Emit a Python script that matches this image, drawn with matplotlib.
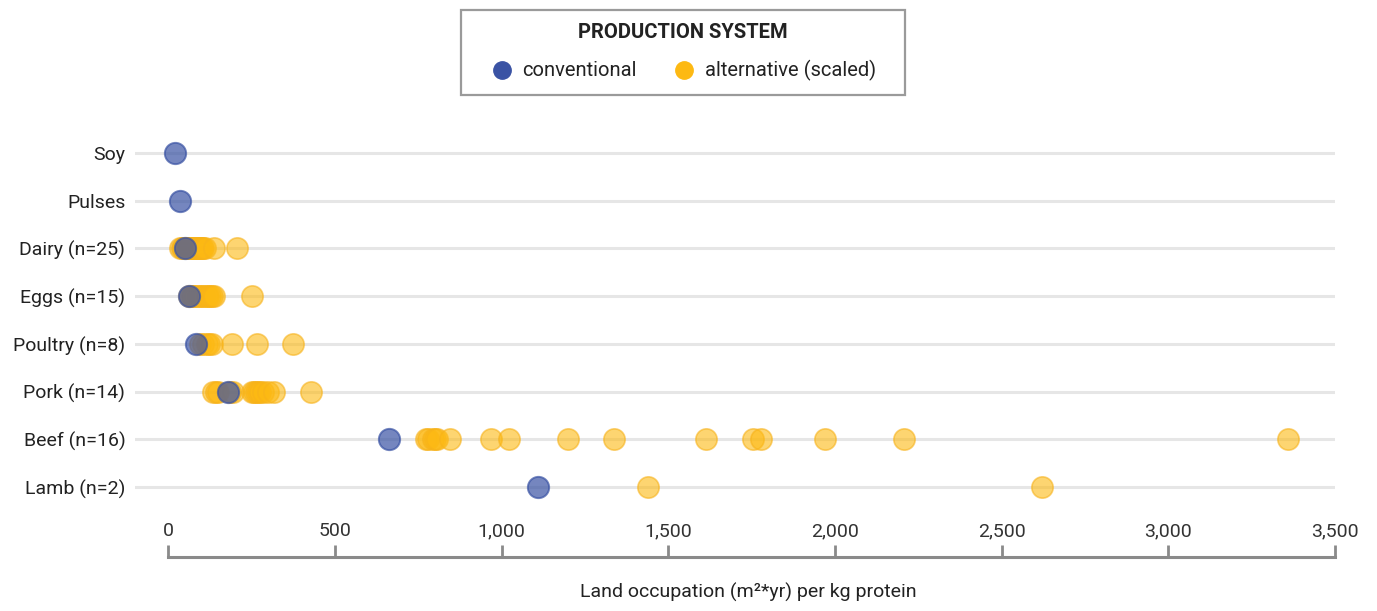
import matplotlib.pyplot as plt
from matplotlib.lines import Line2D
from matplotlib.patches import Rectangle
from matplotlib.ticker import FuncFormatter

plt.rcParams['font.family'] = ['Roboto', 'DejaVu Sans']

categories = ['Soy', 'Pulses', 'Dairy (n=25)', 'Eggs (n=15)', 'Poultry (n=8)',
              'Pork (n=14)', 'Beef (n=16)', 'Lamb (n=2)']

# land occupation, m2*yr per kg protein
conventional = [21, 36, 49, 61, 84, 178, 663, 1110]

alt_dairy = [35, 40, 45, 50, 55, 58, 62, 65, 68, 72, 75, 78, 80, 83, 86, 88,
             90, 92, 95, 97, 100, 105, 110, 136, 206]
alt_eggs = [62, 65, 70, 75, 80, 88, 95, 100, 108, 115, 120, 126, 130, 136, 251]
alt_poultry = [95, 105, 115, 122, 131, 191, 266, 374]
alt_pork = [135, 143, 150, 186, 195, 250, 256, 262, 270, 276, 285, 300, 316, 429]
alt_beef = [772, 780, 795, 800, 806, 844, 967, 1021, 1199, 1338, 1613, 1753,
            1778, 1971, 2208, 3360]
alt_lamb = [1439, 2620]

alternative = {2: alt_dairy, 3: alt_eggs, 4: alt_poultry, 5: alt_pork,
               6: alt_beef, 7: alt_lamb}

blue = '#3a53a4'
yellow = '#fdb913'
W, H = 1377, 611

fig = plt.figure(figsize=(13.77, 6.11), dpi=100)
ax = fig.add_axes([135 / W, (H - 557) / H, 1200 / W, 427 / H])

for i in range(len(categories)):
    ax.axhline(i, color='#e6e6e6', lw=2.2, zorder=0)

for i, vals in alternative.items():
    ax.scatter(vals, [i] * len(vals), s=235, color=yellow, alpha=0.6,
               edgecolor='#f7b21a', linewidth=1.2, zorder=2)

ax.scatter(conventional, range(len(categories)), s=235, color=blue, alpha=0.7,
           edgecolor=blue, linewidth=1.4, zorder=3)

ax.set_xlim(-100, 3500)
ax.set_ylim(8.467, -0.48)
ax.set_yticks(range(len(categories)))
ax.set_yticklabels(categories, fontsize=14, color='#222222')
ax.tick_params(axis='y', length=0, pad=7)

ax.set_xticks(range(0, 3501, 500))
ax.xaxis.set_major_formatter(FuncFormatter(lambda v, p: f'{int(v):,}'))
ax.tick_params(axis='x', direction='in', length=8.6, width=2, color='#8a8a8a',
               labelsize=14, labelcolor='#333333', pad=-25)

for side in ['top', 'right', 'left']:
    ax.spines[side].set_visible(False)
ax.spines['bottom'].set_bounds(0, 3500)
ax.spines['bottom'].set_color('#8a8a8a')
ax.spines['bottom'].set_linewidth(2.2)

fig.text(748 / W, 1 - 592 / H, 'Land occupation (m²*yr) per kg protein',
         ha='center', va='center', fontsize=14, color='#222222')

# legend box drawn in figure pixels
fig.patches.append(Rectangle((461 / W, 1 - 95 / H), 444 / W, 85 / H,
                             transform=fig.transFigure, fill=False,
                             edgecolor='#9a9a9a', linewidth=1.6))
fig.text(683 / W, 1 - 33 / H, 'PRODUCTION SYSTEM', ha='center', va='center',
         fontsize=14.5, fontweight='bold', color='#222222')
for cx, tx, col, lab in [(502, 522, blue, 'conventional'),
                         (684, 705, yellow, 'alternative (scaled)')]:
    fig.add_artist(Line2D([cx / W], [1 - 70 / H], marker='o', markersize=12.5,
                          color=col, transform=fig.transFigure))
    fig.text(tx / W, 1 - 70 / H, lab, ha='left', va='center', fontsize=14.5,
             color='#222222')

fig.savefig('out.png', dpi=100)
